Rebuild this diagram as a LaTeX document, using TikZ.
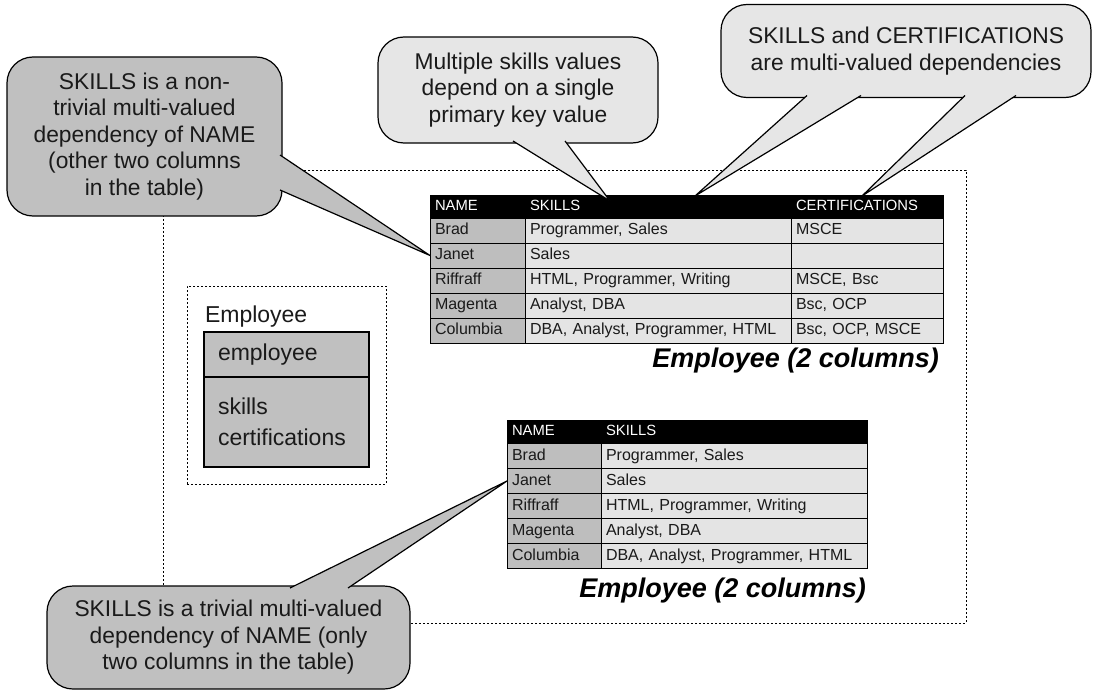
\documentclass[tikz,border=0pt]{standalone}
\usepackage{fontspec}
\setmainfont{Liberation Sans}
\usetikzlibrary{calc}
\definecolor{calldark}{HTML}{C0C0C0}
\definecolor{calllight}{HTML}{E6E6E6}
\definecolor{namefill}{HTML}{BEBEBE}
\definecolor{cellfill}{HTML}{E4E4E4}
\definecolor{textc}{HTML}{1A1A1A}
\begin{document}
\begin{tikzpicture}[x=1pt,y=-1pt,
  every node/.style={inner sep=0pt,outer sep=0pt},
  dotline/.style={draw=black,line width=1pt,dash pattern=on 2pt off 2pt},
  callout/.style={draw=black,line width=1.2pt,rounded corners=26pt,align=center,
    text=textc,font=\fontsize{22.8}{26.5}\selectfont},
  calldk/.style={callout,fill=calldark},
  calllt/.style={callout,fill=calllight},
  ptrdk/.style={fill=calldark,draw=black,line width=1.2pt},
  ptrlt/.style={fill=calllight,draw=black,line width=1.2pt},
  tc/.style={draw=black,line width=1pt,inner xsep=5pt,inner ysep=0pt,align=left,
    text height=11.5pt,text depth=3.5pt,font=\fontsize{16}{18}\selectfont,
    anchor=north west,text=textc},
  namec/.style={tc,fill=namefill,minimum height=25pt},
  datac/.style={tc,fill=cellfill,minimum height=25pt},
  hdrc/.style={tc,fill=black,text=white,minimum height=23pt,
    font=\fontsize{14.8}{17}\selectfont},
  caption/.style={anchor=base east,font=\fontsize{27}{30}\selectfont\bfseries\itshape},
  empbox/.style={draw=black,line width=1.2pt,fill=calldark,anchor=north west,
    inner xsep=14pt,align=left,text width=137pt,text=textc,
    font=\fontsize{23}{31}\selectfont}
]
\useasboundingbox (0,0) rectangle (1094,690);

% outer dotted frame
\node[dotline,minimum width=803pt,minimum height=453pt,anchor=north west] (outer) at (163,170) {};

% Employee entity box
\node[dotline,minimum width=199pt,minimum height=198pt,anchor=north west] (empframe) at (187,286) {};
\node[anchor=west,text=textc,font=\fontsize{23}{26}\selectfont] (emplabel) at (205,317) {Employee};
\node[empbox,minimum height=45pt] (empkey) at (204,332) {employee};
\node[empbox,minimum height=90pt] (empattr) at (204,377) {skills\\certifications};

% top table
\node[hdrc,text width=85pt] (ta-h1) at (430,195) {NAME};
\node[hdrc,text width=256pt] (ta-h2) at (525,195) {SKILLS};
\node[hdrc,text width=142pt] (ta-h3) at (791,195) {CERTIFICATIONS};
\node[namec,text width=85pt] (ta-a1) at (430,218) {Brad};
\node[datac,text width=256pt] (ta-b1) at (525,218) {Programmer, Sales};
\node[datac,text width=142pt] (ta-c1) at (791,218) {MSCE};
\node[namec,text width=85pt] (ta-a2) at (430,243) {Janet};
\node[datac,text width=256pt] (ta-b2) at (525,243) {Sales};
\node[datac,text width=142pt] (ta-c2) at (791,243) {};
\node[namec,text width=85pt] (ta-a3) at (430,268) {Riffraff};
\node[datac,text width=256pt] (ta-b3) at (525,268) {HTML, Programmer, Writing};
\node[datac,text width=142pt] (ta-c3) at (791,268) {MSCE, Bsc};
\node[namec,text width=85pt] (ta-a4) at (430,293) {Magenta};
\node[datac,text width=256pt] (ta-b4) at (525,293) {Analyst, DBA};
\node[datac,text width=142pt] (ta-c4) at (791,293) {Bsc, OCP};
\node[namec,text width=85pt] (ta-a5) at (430,318) {Columbia};
\node[datac,text width=256pt] (ta-b5) at (525,318) {DBA, Analyst, Programmer, HTML};
\node[datac,text width=142pt] (ta-c5) at (791,318) {Bsc, OCP, MSCE};
\node[caption] (capa) at (939,367) {Employee (2 columns)};

% bottom table
\node[hdrc,text width=84pt,minimum height=23.5pt] (tb-h1) at (507,420) {NAME};
\node[hdrc,text width=256pt,minimum height=23.5pt] (tb-h2) at (601,420) {SKILLS};
\node[namec,text width=84pt] (tb-a1) at (507,443.5) {Brad};
\node[datac,text width=256pt] (tb-b1) at (601,443.5) {Programmer, Sales};
\node[namec,text width=84pt] (tb-a2) at (507,468.5) {Janet};
\node[datac,text width=256pt] (tb-b2) at (601,468.5) {Sales};
\node[namec,text width=84pt] (tb-a3) at (507,493.5) {Riffraff};
\node[datac,text width=256pt] (tb-b3) at (601,493.5) {HTML, Programmer, Writing};
\node[namec,text width=84pt] (tb-a4) at (507,518.5) {Magenta};
\node[datac,text width=256pt] (tb-b4) at (601,518.5) {Analyst, DBA};
\node[namec,text width=84pt] (tb-a5) at (507,543.5) {Columbia};
\node[datac,text width=256pt] (tb-b5) at (601,543.5) {DBA, Analyst, Programmer, HTML};
\node[caption] (capb) at (866,597) {Employee (2 columns)};

% callout 1 (non-trivial)
\node[calldk,minimum width=275pt,minimum height=159pt] (c1) at (144.5,136.5)
  {SKILLS is a non-\\trivial multi-valued\\dependency of NAME\\(other two columns\\in the table)};
\path[ptrdk] ($(c1.north east)+(-2,98)$) -- (ta-a2.west) -- ($(c1.north east)+(-2,133)$);

% callout 2 (multiple skills values)
\node[calllt,minimum width=280pt,minimum height=106pt] (c2) at (518,90)
  {Multiple skills values\\depend on a single\\primary key value};
\path[ptrlt] ($(c2.south west)+(135,-2)$) -- ($(ta-h2.north west)+(85,6)$) -- ($(c2.south west)+(187,-2)$);

% callout 3 (skills and certifications)
\node[calllt,minimum width=370pt,minimum height=93pt] (c3) at (906,51)
  {SKILLS and CERTIFICATIONS\\are multi-valued dependencies};
\path[ptrlt] ($(c3.south west)+(86,-2)$) -- ($(ta-h2.north west)+(170,1)$) -- ($(c3.south west)+(140,-2)$);
\path[ptrlt] ($(c3.south west)+(244,-2)$) -- ($(ta-h3.north west)+(71,1)$) -- ($(c3.south west)+(295,-2)$);

% callout 4 (trivial)
\node[calldk,minimum width=363pt,minimum height=103pt] (c4) at (228.5,637.5)
  {SKILLS is a trivial multi-valued\\dependency of NAME (only\\two columns in the table)};
\path[ptrdk] ($(c4.north west)+(243,2)$) -- (tb-a2.west) -- ($(c4.north west)+(301,2)$);
\end{tikzpicture}
\end{document}
